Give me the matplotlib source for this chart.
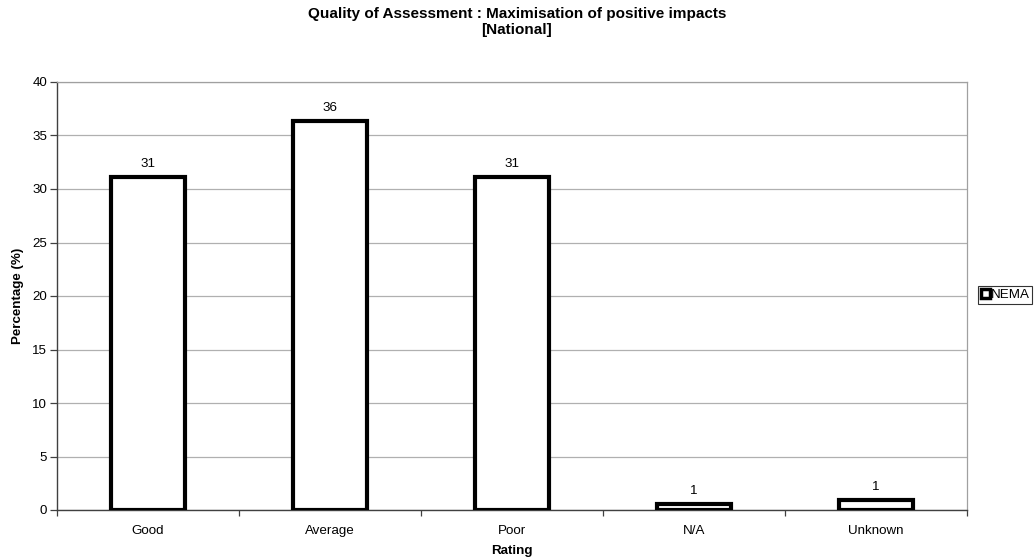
import matplotlib
matplotlib.use("Agg")
import matplotlib.pyplot as plt
from matplotlib.patches import Rectangle

plt.rcParams['font.family'] = ['Liberation Sans', 'DejaVu Sans']

categories = ["Good", "Average", "Poor", "N/A", "Unknown"]
values = [31.1, 36.4, 31.1, 0.6, 0.9]
labels = ["31", "36", "31", "1", "1"]
series_name = "NEMA"
title = "Quality of Assessment : Maximisation of positive impacts\n[National]"

FS = 9.6

fig = plt.figure(figsize=(10.34, 5.59), dpi=100)
ax = fig.add_axes([57/1034, 1 - 510/559, (967-57)/1034, (510-82)/559])

x = list(range(len(categories)))
bars = ax.bar(x, values, width=0.41, facecolor='white', edgecolor='black', linewidth=3, zorder=3)
for xi, v, lab in zip(x, values, labels):
    ax.annotate(lab, (xi, v), xytext=(0, 5), textcoords='offset points',
                ha='center', va='bottom', fontsize=FS)

ax.set_xlim(-0.5, len(categories) - 0.5)
ax.set_ylim(0, 40)
ax.set_yticks(range(0, 41, 5))
ax.yaxis.grid(True, color='#b0b0b0', linewidth=0.9, zorder=0)
ax.set_xticks(x)
ax.set_xticklabels(categories, fontsize=FS)
ax.tick_params(axis='x', length=0, pad=10.5)
ax.set_xticks([i - 0.5 for i in range(len(categories) + 1)], minor=True)
ax.tick_params(axis='x', which='minor', length=4, width=0.9, color='#404040', direction='out')
ax.tick_params(axis='y', length=5, width=0.9, color='#404040', labelsize=FS, pad=2)

for s in ['left', 'bottom']:
    ax.spines[s].set_color('#404040')
    ax.spines[s].set_linewidth(1.0)
for s in ['top', 'right']:
    ax.spines[s].set_color('#a0a0a0')
    ax.spines[s].set_linewidth(0.9)

ax.set_ylabel("Percentage (%)", fontsize=FS, fontweight='bold')
ax.yaxis.set_label_coords((24 - 57) / 910, 0.5)
ax.set_xlabel("Rating", fontsize=FS, fontweight='bold', labelpad=6)

fig.text(517/1034, 1 - 22/559, title, ha='center', va='center', fontsize=11, fontweight='bold', linespacing=1.2)

# legend
handle = Rectangle((0, 0), 1, 1, facecolor='white', edgecolor='black', linewidth=2.5)
leg = fig.legend([handle], [series_name], loc='center left', bbox_to_anchor=(978/1034, 1 - 295/559),
                 frameon=True, fancybox=False, edgecolor='black', fontsize=FS,
                 handlelength=0.7, handleheight=0.7, handletextpad=0.05, borderpad=0.2, borderaxespad=0)
leg.get_frame().set_linewidth(0.8)

fig.savefig("out.png", dpi=100, facecolor='white')
